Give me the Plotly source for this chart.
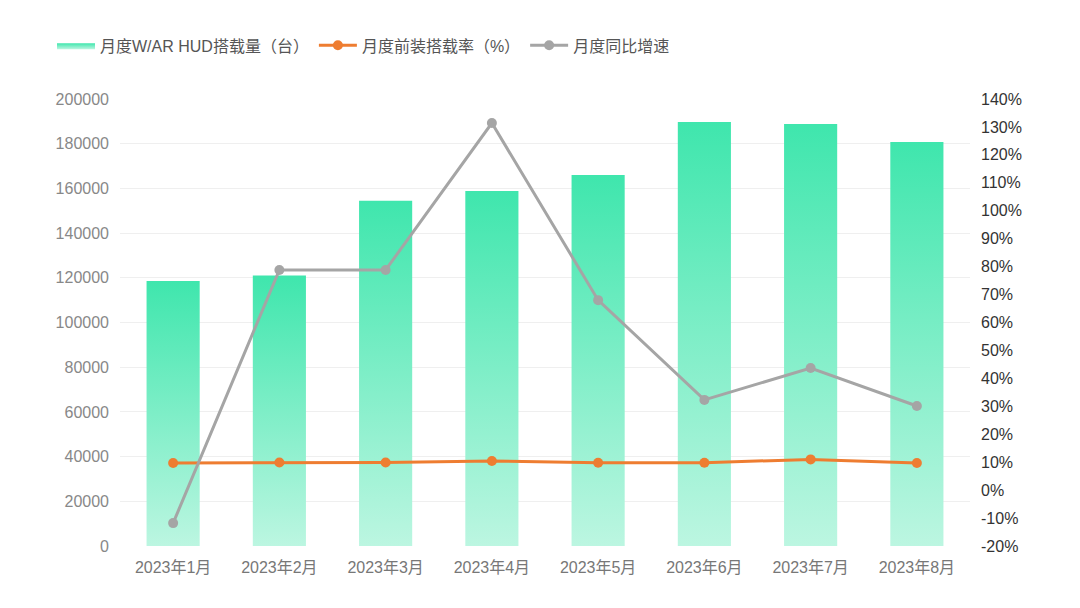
import plotly.graph_objects as go

months = ["2023年1月", "2023年2月", "2023年3月", "2023年4月",
          "2023年5月", "2023年6月", "2023年7月", "2023年8月"]
hud_volume = [118600, 121000, 154500, 158800, 166000, 189700, 188800, 180800]
install_rate = [9.7, 9.9, 9.9, 10.4, 9.8, 9.8, 11.0, 9.7]
yoy_growth = [-11.8, 78.8, 78.8, 131.4, 68.0, 32.3, 43.7, 30.1]

left_ticks = list(range(0, 200001, 20000))
right_ticks = list(range(-20, 141, 10))

BAR_W = 0.5
TOP_C = "#3fe6ad"
BOT_C = "#bcf6e1"
FONT = "Liberation Sans, Noto Sans CJK SC, sans-serif"

fig = go.Figure()

idx = list(range(len(months)))
for i, v in zip(idx, hud_volume):
    x0, x1 = i - BAR_W / 2, i + BAR_W / 2
    fig.add_trace(go.Scatter(
        x=[x0, x1, x1, x0, x0], y=[0, 0, v, v, 0],
        mode="lines", fill="toself", line=dict(width=0),
        fillgradient=dict(type="vertical", start=0, stop=v,
                          colorscale=[[0, BOT_C], [1, TOP_C]]),
        fillcolor=TOP_C,
        name="月度W/AR HUD搭载量（台）", legendgroup="bar",
        showlegend=(i == 0), hoverinfo="skip", yaxis="y",
    ))

fig.add_trace(go.Scatter(
    x=idx, y=install_rate, mode="lines+markers", name="月度前装搭载率（%）",
    line=dict(color="#ee7d31", width=3), marker=dict(size=10, color="#ee7d31"),
    yaxis="y2",
))
fig.add_trace(go.Scatter(
    x=idx, y=yoy_growth, mode="lines+markers", name="月度同比增速",
    line=dict(color="#a5a5a5", width=3), marker=dict(size=10, color="#a5a5a5"),
    yaxis="y2",
))

fig.update_layout(
    width=1080, height=608,
    margin=dict(l=120, r=110, t=99, b=62),
    paper_bgcolor="white", plot_bgcolor="white",
    font=dict(family=FONT, size=16, color="#555"),
    showlegend=True,
    legend=dict(orientation="h", x=-0.08, xanchor="left", y=1.12, yanchor="middle",
                font=dict(size=16, color="#555"), itemwidth=38,
                bgcolor="rgba(0,0,0,0)"),
    xaxis=dict(
        range=[-0.5, len(months) - 0.5],
        tickvals=idx, ticktext=months,
        showgrid=False, zeroline=False, showline=False,
        ticks="", tickfont=dict(size=16, color="#777"), ticklabelstandoff=10,
    ),
    yaxis=dict(
        range=[0, 200000], tickvals=left_ticks,
        ticktext=[str(t) for t in left_ticks],
        showgrid=True, gridcolor="#efefef", gridwidth=1,
        zeroline=False, showline=False, ticks="",
        tickfont=dict(size=16, color="#888"), ticklabelstandoff=10,
    ),
    yaxis2=dict(
        range=[-20, 140], tickvals=right_ticks,
        ticktext=[f"{t}%" for t in right_ticks],
        overlaying="y", side="right", showgrid=False,
        zeroline=False, showline=False, ticks="",
        tickfont=dict(size=16, color="#333"), ticklabelstandoff=10,
    ),
)

fig.write_html("out.html")
